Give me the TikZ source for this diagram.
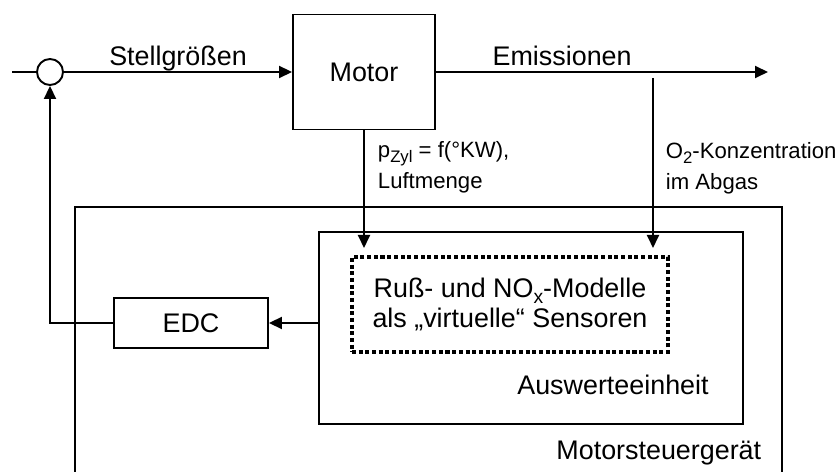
\documentclass[tikz,border=0pt]{standalone}
\usepackage{fontspec}
\setmainfont{Liberation Sans}
\usetikzlibrary{arrows.meta,positioning}

\newcommand{\tief}[2]{\raisebox{-0.22em}[\height][0pt]{\fontsize{#1}{#1}\selectfont #2}}

\tikzset{
  blk/.style={draw,inner sep=0pt},
  small/.style={font=\fontsize{12.6}{17.5}\selectfont,align=left,anchor=west,inner sep=0pt},
}

\begin{document}
\begin{tikzpicture}[scale=1.0,>={Triangle[length=0.26cm,width=0.24cm]},
  line width=1.1pt,font=\fontsize{15.3}{17}\selectfont]
\useasboundingbox (0,0) rectangle (16.76,9.44);
% Regelkreis
\coordinate (in) at (0.24,8.0);
\coordinate (out) at (15.36,8.0);
\node[blk,circle,minimum size=0.52cm] (sum) at (1.0,8.0) {};
\node[blk,minimum width=2.84cm,minimum height=2.3cm] (motor) at (7.28,8.0) {Motor};
\draw (in) -- (sum.west);
\draw[->] (sum.east) -- node[above,text depth=0pt]{Stellgrößen} (motor.west);
\draw[->] (motor.east) -- node[pos=0.38,above,text depth=0pt]{Emissionen} (out);
% Steuergeraet
\draw[line width=1pt] (1.5,0) |- (15.64,5.3) -- (15.64,0);
\node[anchor=base east] (msg) at (15.36,0.24) {Motorsteuergerät};
\node[blk,line width=1pt,minimum width=8.48cm,minimum height=3.84cm] (ausw) at (10.62,2.88) {};
\node[anchor=base] (auswtxt) at (12.26,1.54) {Auswerteeinheit};
\node[draw,line width=2.3pt,dash pattern=on 2.3pt off 1.5pt,align=center,
  minimum width=6.32cm,minimum height=1.9cm] (modell) at (10.2,3.35)
  {Ruß- und NO\tief{11}{x}-Modelle\\als „virtuelle“ Sensoren};
\node[blk,minimum width=3.08cm,minimum height=1.0cm] (edc) at (3.82,2.98) {EDC};
% Messgroessen
\coordinate (pin) at (7.28,4.48);
\coordinate (otap) at (13.06,7.88);
\coordinate (oin) at (13.06,4.48);
\draw[->] (motor.south) -- (pin);
\draw[->] (otap) -- (oin);
\node[small] (plbl) at (7.54,6.1) {p\tief{9.5}{Zyl} = f(°KW),\\Luftmenge};
\node[small] (olbl) at (13.3,6.08) {O\tief{9.5}{2}-Konzentration\\im Abgas};
% Rueckfuehrung
\draw[->] (ausw.west |- edc.east) -- (edc.east);
\draw[->] (edc.west) -| (sum.south);
\end{tikzpicture}
\end{document}
